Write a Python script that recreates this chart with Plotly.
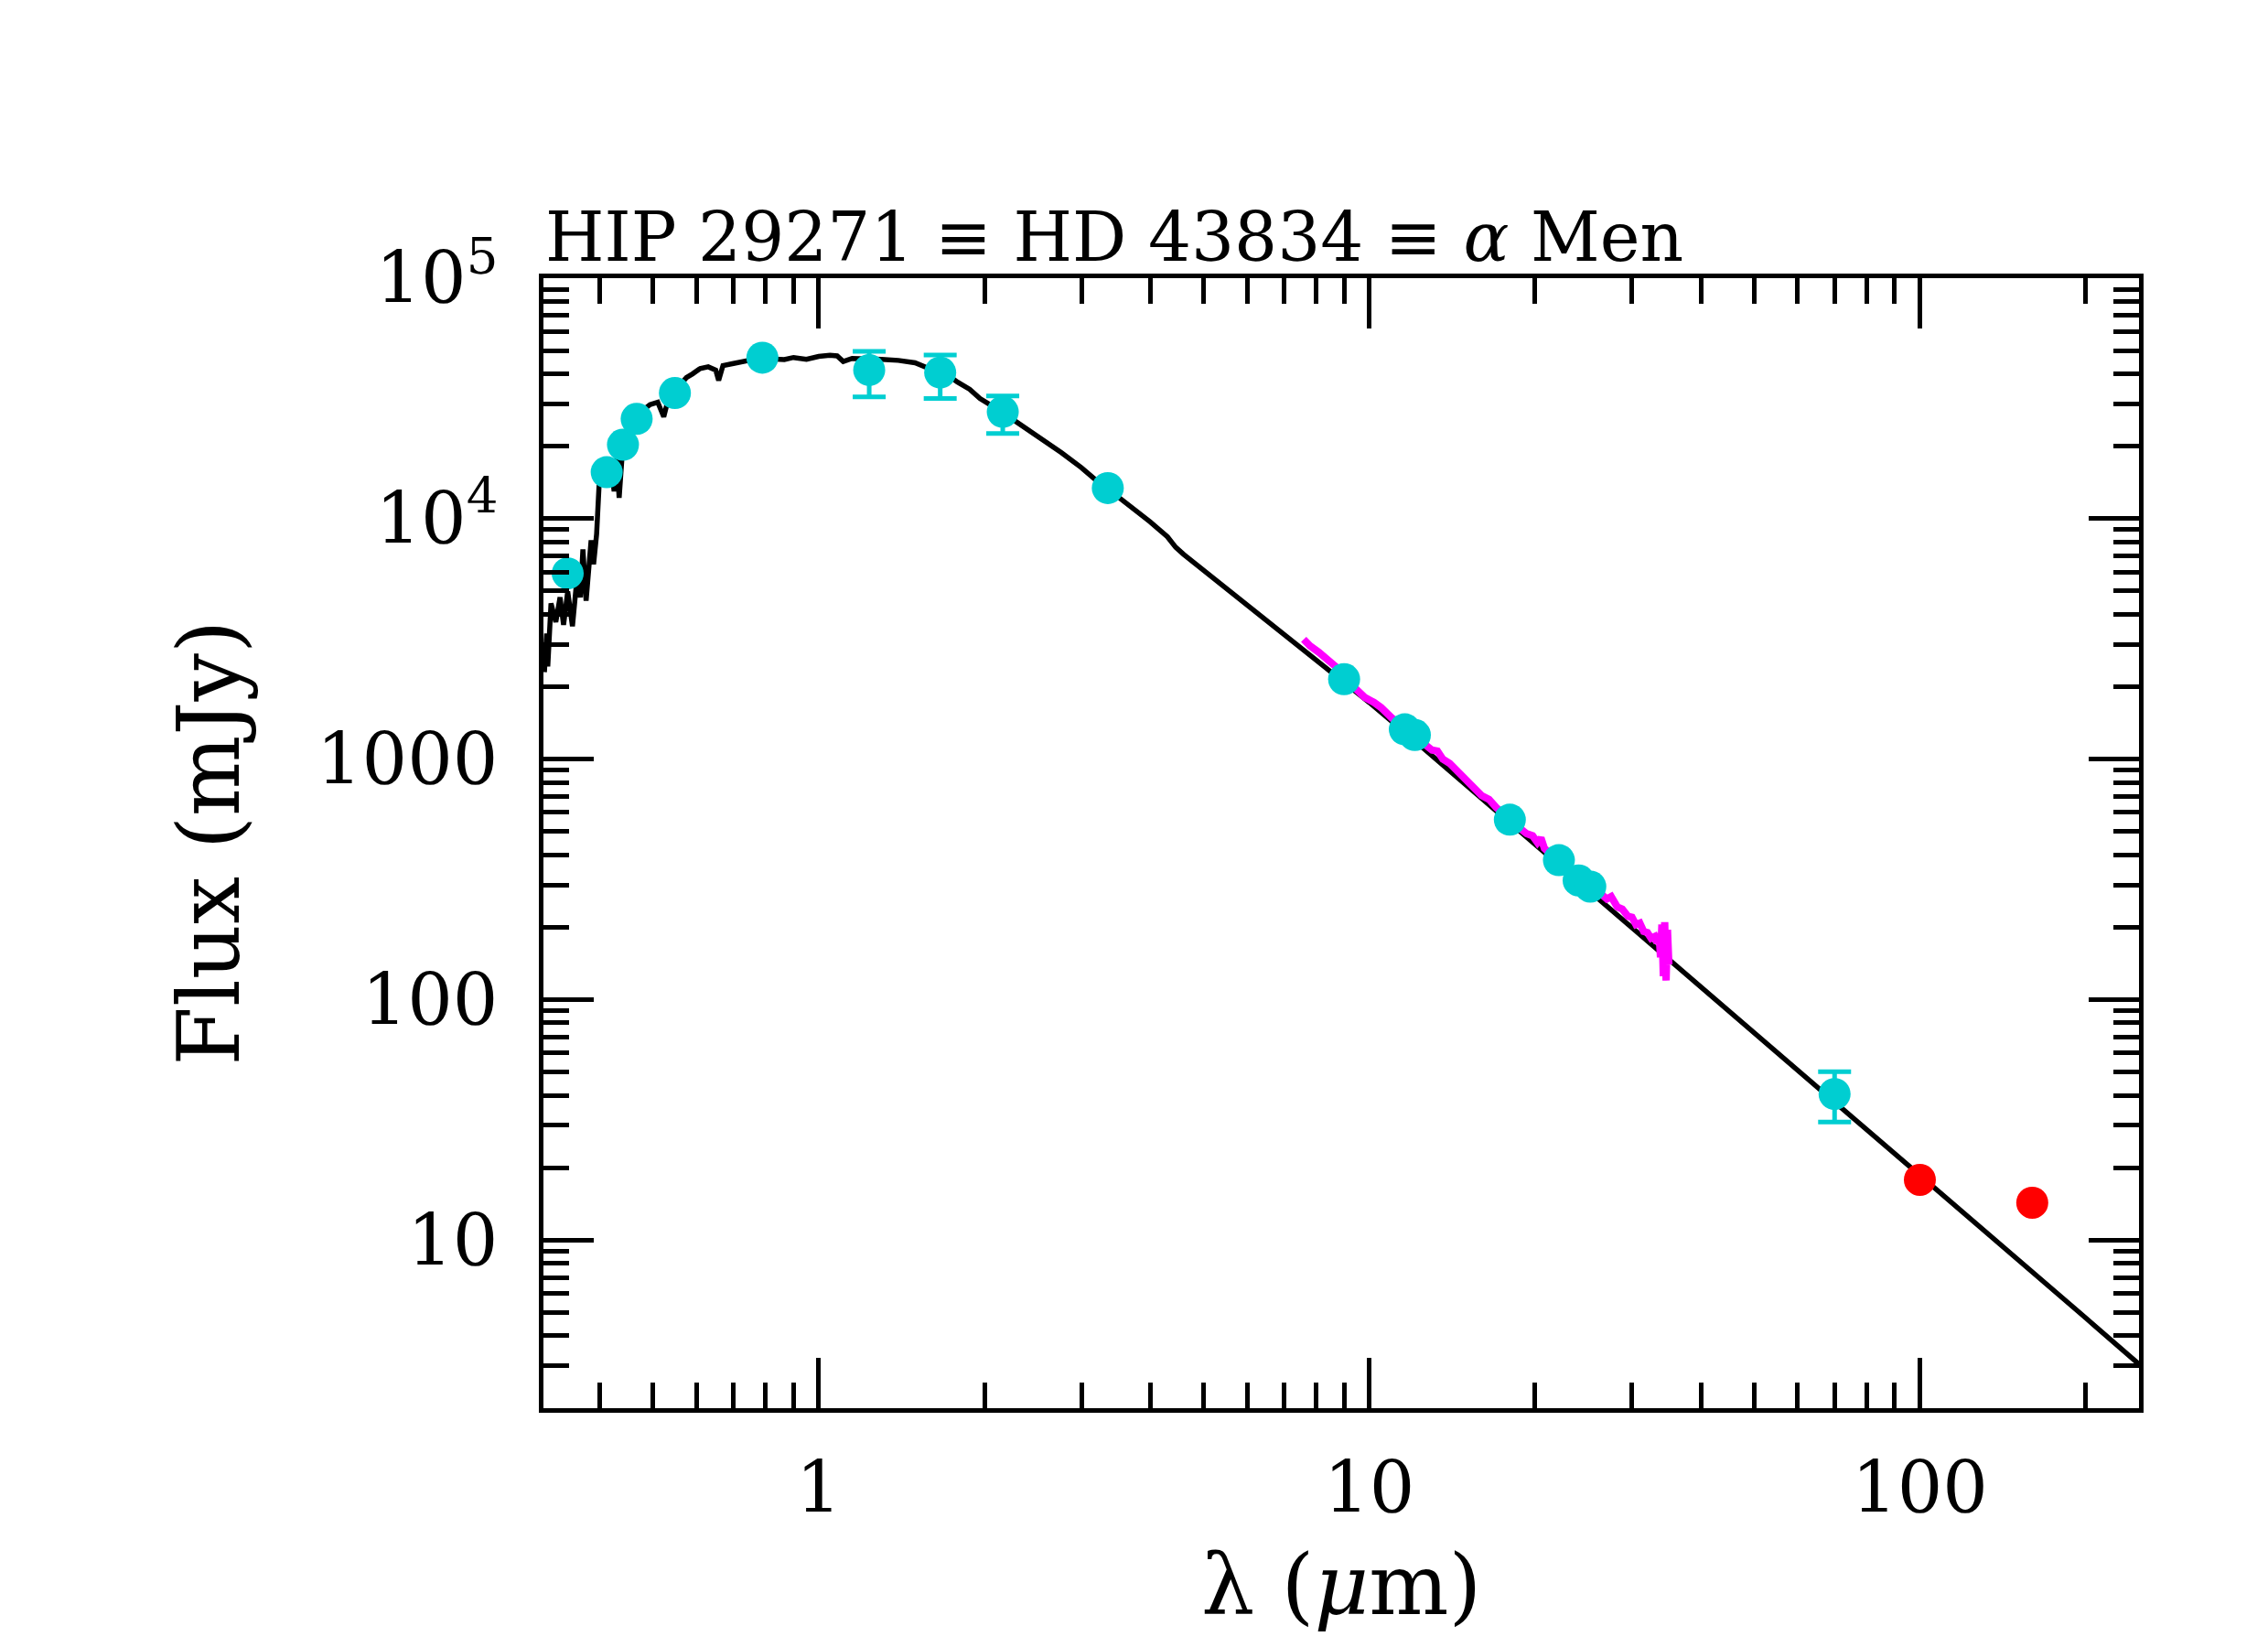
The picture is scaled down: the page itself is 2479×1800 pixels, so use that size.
import plotly.graph_objects as go

# photospheric model (black)
model_wave = [0.3175, 0.3205, 0.322, 0.3264, 0.333, 0.339, 0.344, 0.350, 0.357, 0.364,
              0.369, 0.373, 0.378, 0.386, 0.390, 0.395, 0.399, 0.405, 0.412, 0.420,
              0.425, 0.430, 0.434, 0.438, 0.441, 0.455, 0.467, 0.480, 0.494, 0.510,
              0.523, 0.535, 0.548, 0.560, 0.575, 0.590, 0.609, 0.630, 0.650, 0.658,
              0.670, 0.700, 0.732, 0.760, 0.790, 0.820, 0.866, 0.900, 0.950, 1.000,
              1.048, 1.080, 1.108, 1.150, 1.220, 1.300, 1.395, 1.450, 1.496, 1.560,
              1.600, 1.650, 1.700, 1.785, 1.880, 1.963, 2.150, 2.340, 2.550, 2.760,
              3.000, 3.240, 3.500, 3.700, 4.000, 4.300, 4.450, 4.600, 5.000, 5.500,
              6.000, 6.500, 7.000, 8.000, 9.000, 10.0, 12.0, 15.0, 18.0, 20.0,
              25.0, 30.0, 35.0, 40.0, 50.0, 60.0, 70.0, 80.0, 100.0, 130.0,
              160.0, 200.0, 250.0]
model_flux = [2300, 3330, 2430, 4440, 3720, 4710, 3620, 4980, 3570, 5740,
              4710, 7450, 4560, 8130, 6460, 8630, 13650, 15200, 15800, 16500,
              13000, 17800, 12200, 19000, 20500, 23500, 26200, 28300, 29800, 30500,
              26500, 32500, 34000, 36000, 38600, 40000, 42100, 42800, 41500, 37600,
              43300, 44200, 45200, 45600, 46700, 46200, 45900, 46800, 46000, 47300,
              47800, 47500, 45000, 46400, 46300, 46000, 45500, 45200, 44500, 42800,
              41500, 42300, 40000, 37000, 34500, 31600, 27800, 24400, 21500, 18800,
              16300, 14000, 12300, 11200, 9700, 8400, 7600, 7100, 6100, 5150,
              4400, 3800, 3330, 2600, 2100, 1720, 1210, 780, 545, 443,
              286, 200, 148, 114, 73, 51, 37.8, 29.2, 18.6, 11.1,
              7.35, 4.75, 3.05]

# IRS spectrum (magenta)
irs_wave = [7.6, 7.8, 8.1, 8.4, 8.7, 9.2, 9.8, 10.2, 10.5, 11.0,
            12.6, 13.0, 13.3, 13.6, 14.0, 14.5, 15.2, 16.0, 16.5, 17.0,
            18.5, 19.3, 19.8, 20.2, 20.5, 20.8, 21.3, 22.0, 24.0, 25.5,
            26.5, 27.0, 27.5, 28.2, 28.8, 29.5, 30.0, 30.5, 31.0, 31.5,
            32.0, 32.5, 33.0, 33.3, 33.6, 33.8, 34.0, 34.2, 34.4, 34.6,
            34.8, 35.0]
irs_flux = [3150, 2960, 2780, 2600, 2420, 2080, 1810, 1720, 1640, 1480,
            1140, 1090, 1080, 1000, 960, 880, 790, 705, 680, 630,
            530, 490, 480, 450, 470, 425, 405, 390, 330, 300,
            272, 262, 268, 243, 238, 222, 220, 205, 208, 192,
            190, 180, 183, 172, 188, 150, 205, 125, 210, 120,
            195, 140]

# photometry without visible error bars (cyan)
phot_wave = [0.350, 0.412, 0.441, 0.467, 0.548, 0.790, 3.35, 9.0, 11.6, 12.1,
             18.0, 22.1, 24.0, 25.2]
phot_flux = [5920, 15600, 20300, 26000, 33300, 46700, 13400, 2150, 1330, 1260,
             560, 380, 313, 295]

# photometry with error bars (cyan)
err_wave = [1.235, 1.662, 2.159, 70.0]
err_flux = [41500, 40500, 27800, 40.5]
err_hi = [8100, 7400, 4600, 9.7]
err_lo = [9400, 8900, 5200, 9.5]

# new far-IR points (red)
fir_wave = [100.0, 160.0]
fir_flux = [17.8, 14.3]

x_major = [1, 10, 100]
x_major_text = ['1', '10', '100']
x_minor = [0.4, 0.5, 0.6, 0.7, 0.8, 0.9, 2, 3, 4, 5, 6, 7, 8, 9,
           20, 30, 40, 50, 60, 70, 80, 90, 200]
y_major = [10, 100, 1000, 1e4, 1e5]
y_major_text = ['10', '100', '1000', '10<sup>4</sup>', '10<sup>5</sup>']
y_minor = [3, 4, 5, 6, 7, 8, 9, 20, 30, 40, 50, 60, 70, 80, 90,
           200, 300, 400, 500, 600, 700, 800, 900,
           2000, 3000, 4000, 5000, 6000, 7000, 8000, 9000,
           2e4, 3e4, 4e4, 5e4, 6e4, 7e4, 8e4, 9e4]

CYAN = '#00CED1'
FONT = 'DejaVu Serif'

fig = go.Figure()
fig.add_trace(go.Scatter(x=model_wave, y=model_flux, mode='lines',
                         line=dict(color='black', width=5.5)))
fig.add_trace(go.Scatter(x=irs_wave, y=irs_flux, mode='lines',
                         line=dict(color='#FF00FF', width=8)))
fig.add_trace(go.Scatter(x=phot_wave, y=phot_flux, mode='markers',
                         marker=dict(color=CYAN, size=35, line=dict(width=0))))
fig.add_trace(go.Scatter(x=err_wave, y=err_flux, mode='markers',
                         marker=dict(color=CYAN, size=35, line=dict(width=0)),
                         error_y=dict(type='data', symmetric=False, array=err_hi,
                                      arrayminus=err_lo, color=CYAN,
                                      thickness=5, width=18)))
fig.add_trace(go.Scatter(x=fir_wave, y=fir_flux, mode='markers',
                         marker=dict(color='#FF0000', size=35, line=dict(width=0))))

axis_common = dict(
    type='log', tickmode='array', ticks='inside', ticklen=55, tickwidth=4.5,
    tickcolor='black', showline=True, linewidth=5, linecolor='black',
    mirror='allticks', showgrid=False, zeroline=False,
    tickfont=dict(family=FONT, size=78, color='black'),
)

fig.update_xaxes(range=[-0.5, 2.398], tickvals=x_major, ticktext=x_major_text,
                 ticklabelstandoff=15,
                 minor=dict(tickmode='array', tickvals=x_minor, ticks='inside',
                            ticklen=28, tickwidth=4.5, tickcolor='black', showgrid=False),
                 **axis_common)
fig.update_yaxes(range=[0.30103, 5], tickvals=y_major, ticktext=y_major_text,
                 ticklabelstandoff=29,
                 minor=dict(tickmode='array', tickvals=y_minor, ticks='inside',
                            ticklen=28, tickwidth=4.5, tickcolor='black', showgrid=False),
                 **axis_common)

fig.add_annotation(text='HIP 29271 \u2261 HD 43834 \u2261 <i>\u03b1</i> Men',
                   xref='paper', yref='paper', x=0, y=1, xanchor='left', yanchor='bottom',
                   showarrow=False, font=dict(family=FONT, size=74, color='black'))
fig.add_annotation(text='Flux (mJy)', xref='paper', yref='paper', x=0, y=0.5,
                   xanchor='center', yanchor='middle', xshift=-366, textangle=-90,
                   showarrow=False, font=dict(family=FONT, size=93, color='black'))
fig.add_annotation(text='\u03bb (<i>\u03bc</i>m)', xref='paper', yref='paper', x=0.5, y=0,
                   xanchor='center', yanchor='middle', yshift=-193,
                   showarrow=False, font=dict(family=FONT, size=92, color='black'))

fig.update_layout(width=2463, height=1784, showlegend=False,
                  margin=dict(l=586, r=133, t=296, b=253),
                  plot_bgcolor='white', paper_bgcolor='white')

fig.write_html("out.html")
